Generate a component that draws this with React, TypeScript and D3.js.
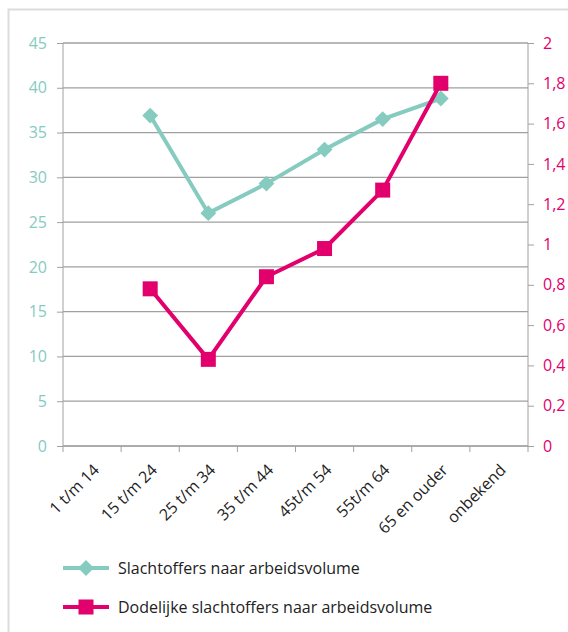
import { useEffect, useRef } from "react";
import * as d3 from "d3";

const categories = ["1 t/m 14", "15 t/m 24", "25 t/m 34", "35 t/m 44", "45t/m 54", "55t/m 64", "65 en ouder", "onbekend"];
// slachtoffers (left axis), null = geen waarde
const slachtoffers = [null, 36.9, 26.0, 29.3, 33.1, 36.5, 38.8, null];
// dodelijke slachtoffers (right axis)
const dodelijk = [null, 0.78, 0.43, 0.84, 0.98, 1.27, 1.8, null];
const leftTicks = [0, 5, 10, 15, 20, 25, 30, 35, 40, 45];
const rightTicks = [0, 0.2, 0.4, 0.6, 0.8, 1, 1.2, 1.4, 1.6, 1.8, 2];
const legendLabels = ["Slachtoffers  naar arbeidsvolume", "Dodelijke slachtoffers  naar arbeidsvolume"];

const GREEN = "#86cbbf";
const PINK = "#e2006d";
const GRID = "#a0a0a0";

export default function App() {
  const width = 568;
  const height = 632;
  const marginTop = 43;
  const marginRight = 40;
  const marginBottom = 186;
  const marginLeft = 63;

  const gx = useRef(null);
  const gyl = useRef(null);
  const gyr = useRef(null);

  const x = d3.scaleBand()
    .domain(categories)
    .range([marginLeft, width - marginRight]);

  const yl = d3.scaleLinear()
    .domain([0, 45])
    .range([height - marginBottom, marginTop]);

  const yr = d3.scaleLinear()
    .domain([0, 2])
    .range([height - marginBottom, marginTop]);

  const cx = (c) => x(c) + x.bandwidth() / 2;

  const greenLine = d3.line()
    .defined(d => d[1] != null)
    .x(d => cx(d[0]))
    .y(d => yl(d[1]));

  const pinkLine = d3.line()
    .defined(d => d[1] != null)
    .x(d => cx(d[0]))
    .y(d => yr(d[1]));

  const greenData = categories.map((c, i) => [c, slachtoffers[i]]);
  const pinkData = categories.map((c, i) => [c, dodelijk[i]]);

  const font = "'Open Sans', 'Noto Sans', sans-serif";

  useEffect(() => {
    const g = d3.select(gx.current);
    g.selectAll("*").remove();
    // tick marks at the category boundaries
    const edges = [...categories.map(c => x(c)), width - marginRight];
    g.selectAll("line.edge")
      .data(edges)
      .join("line")
      .attr("class", "edge")
      .attr("x1", d => d).attr("x2", d => d)
      .attr("y1", 0).attr("y2", 6)
      .attr("stroke", GRID);
    g.append("line")
      .attr("x1", marginLeft).attr("x2", width - marginRight)
      .attr("stroke", GRID);
    g.selectAll("text")
      .data(categories)
      .join("text")
      .attr("transform", d => `translate(${cx(d)},${17}) rotate(-45)`)
      .attr("text-anchor", "end")
      .attr("dy", "0.71em")
      .attr("font-size", 16)
      .attr("font-family", font)
      .attr("fill", "#222")
      .text(d => d);
  }, [gx, x]);

  useEffect(() => {
    void d3.select(gyl.current)
      // @ts-ignore
      .call(d3.axisLeft(yl).tickValues(leftTicks).tickSize(6).tickPadding(10))
      .call(g => g.select(".domain").attr("stroke", GRID).attr("d", `M0,${yl(45)}V${yl(0)}`))
      .call(g => g.selectAll(".tick line").attr("stroke", GRID))
      .call(g => g.selectAll(".tick text").attr("fill", GREEN).attr("font-size", 16).attr("font-family", font));
  }, [gyl, yl]);

  useEffect(() => {
    void d3.select(gyr.current)
      // @ts-ignore
      .call(d3.axisRight(yr).tickValues(rightTicks).tickSize(6).tickPadding(9)
        .tickFormat(d => String(+d.toFixed(1)).replace(".", ",")))
      .call(g => g.select(".domain").attr("stroke", GRID).attr("d", `M0,${yr(2)}V${yr(0)}`))
      .call(g => g.selectAll(".tick line").attr("stroke", GRID))
      .call(g => g.selectAll(".tick text").attr("fill", PINK).attr("font-size", 16).attr("font-family", font));
  }, [gyr, yr]);

  const diamond = d3.symbol().type(d3.symbolSquare).size(125)();

  return (
    <div style={{ position: "absolute", left: 0, top: 0, width, height, overflow: "hidden" }}>
      <svg width={width} height={height} style={{ display: "block", background: "#fff" }}>
        <rect x={8.5} y={9.5} width={width} height={height} fill="none" stroke="#dcdcdc" strokeWidth={2} />

        {leftTicks.map(t => (
          <line key={t} x1={marginLeft} x2={width - marginRight} y1={yl(t)} y2={yl(t)} stroke={GRID} strokeWidth={1.3} />
        ))}

        <g ref={gx} transform={`translate(0,${height - marginBottom})`} />
        <g ref={gyl} transform={`translate(${marginLeft},0)`} />
        <g ref={gyr} transform={`translate(${width - marginRight},0)`} />

        <path d={greenLine(greenData)} fill="none" stroke={GREEN} strokeWidth={4} />
        {greenData.filter(d => d[1] != null).map(d => (
          <path key={d[0]} d={diamond} transform={`translate(${cx(d[0])},${yl(d[1])}) rotate(45)`} fill={GREEN} />
        ))}

        <path d={pinkLine(pinkData)} fill="none" stroke={PINK} strokeWidth={4} />
        {pinkData.filter(d => d[1] != null).map(d => (
          <rect key={d[0]} x={cx(d[0]) - 7.5} y={yr(d[1]) - 7.5} width={15} height={15} fill={PINK} />
        ))}

        <g fontFamily={font} fontSize={16} fill="#222">
          <g transform="translate(0,568)">
            <line x1={63} x2={109} stroke={GREEN} strokeWidth={4} />
            <path d={diamond} transform="translate(86,0) rotate(45)" fill={GREEN} />
            <text x={118} dy="0.35em">{legendLabels[0]}</text>
          </g>
          <g transform="translate(0,607)">
            <line x1={63} x2={109} stroke={PINK} strokeWidth={4} />
            <rect x={78.5} y={-7.5} width={15} height={15} fill={PINK} />
            <text x={118} dy="0.35em">{legendLabels[1]}</text>
          </g>
        </g>
      </svg>
    </div>
  );
}
